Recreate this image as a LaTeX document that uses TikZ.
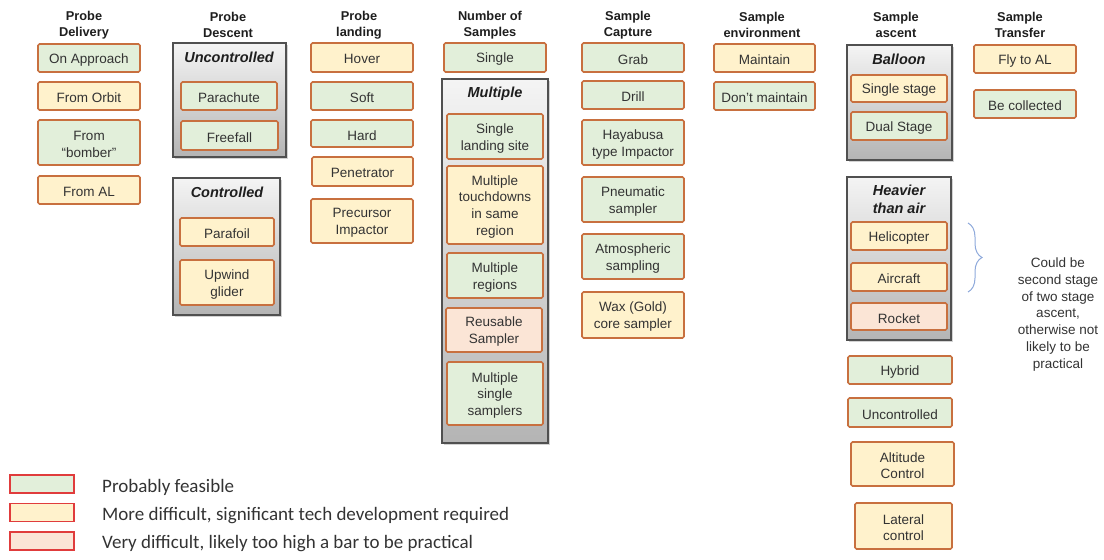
\documentclass[tikz,border=0pt]{standalone}
\usepackage{fontspec}
\setmainfont{Liberation Sans}
\newfontfamily\legendfont{Carlito}
\usetikzlibrary{shadows,decorations.pathreplacing}
\definecolor{gfill}{HTML}{E2EFDA}
\definecolor{yfill}{HTML}{FFF2CC}
\definecolor{pfill}{HTML}{FBE5D6}
\definecolor{boxline}{HTML}{C8703F}
\definecolor{legline}{HTML}{E03C3C}
\definecolor{grpline}{HTML}{505050}
\definecolor{grtop}{HTML}{F4F4F4}
\definecolor{grbot}{HTML}{B4B4B4}
\definecolor{txt}{HTML}{333333}
\definecolor{hdrtxt}{HTML}{1E1E1E}
\definecolor{bracecol}{HTML}{8EA9DB}
\newcommand\bx[7]{\node[#6, minimum width={#4-#2}, minimum height={#5-#3}] (#1) at ({(#2+#4)/2},{(#3+#5)/2}) {};
  \node[boxtxt] (#1-t) at ([yshift=-1.8pt]#1.center) {#7};}
\tikzset{
  box/.style={draw=boxline, line width=1.7pt, rounded corners=1.5pt, inner sep=0pt},
  boxtxt/.style={align=center, inner sep=0pt, text=txt, font=\fontsize{13.5}{16.7}\selectfont},
  gr/.style={box, fill=gfill},
  ye/.style={box, fill=yfill},
  pk/.style={box, fill=pfill},
  grp/.style={draw=grpline, line width=1.6pt, top color=grtop, bottom color=grbot, inner sep=0pt,
    drop shadow={shadow xshift=2pt, shadow yshift=-2pt, opacity=0.35}},
  hdr/.style={font=\bfseries\fontsize{12.8}{15.5}\selectfont, align=center, text=hdrtxt, inner sep=0pt},
  gtitle/.style={font=\bfseries\itshape\fontsize{14.5}{17.5}\selectfont, align=center, text=hdrtxt, inner sep=0pt},
  leg/.style={draw=legline, line width=1.4pt, inner sep=0pt, minimum width=64pt, minimum height=18pt},
  legtxt/.style={anchor=west, font=\legendfont\fontsize{19}{22}\selectfont, text=txt, inner sep=0pt},
  note/.style={align=center, text=txt, font=\fontsize{13.5}{16.8}\selectfont, inner sep=0pt}
}
\begin{document}
\begin{tikzpicture}[x=1pt,y=-1pt]
\useasboundingbox (0,0) rectangle (1104,560);
% headers
\node[hdr] (h1) at (84,25) {Probe\\Delivery};
\node[hdr] (h2) at (228,25) {Probe\\Descent};
\node[hdr] (h3) at (359,25) {Probe\\landing};
\node[hdr] (h4) at (490,25) {Number of\\Samples};
\node[hdr] (h5) at (628,25) {Sample\\Capture};
\node[hdr] (h6) at (762,25) {Sample\\environment};
\node[hdr] (h7) at (896,25) {Sample\\ascent};
\node[hdr] (h8) at (1020,25) {Sample\\Transfer};
% column 1
\bx{d1}{38}{44}{140}{72}{gr}{On Approach}
\bx{d2}{38}{82}{140}{110}{ye}{From Orbit}
\bx{d3}{38}{120}{140}{165}{gr}{From\\“bomber”}
\bx{d4}{38}{176}{140}{204}{ye}{From AL}
% column 2
\bx{gU}{173}{43}{286}{157}{grp}{}
\node[gtitle] (tU) at (229,57) {Uncontrolled};
\bx{p1}{181}{82}{277}{110}{gr}{Parachute}
\bx{p2}{181}{121}{278}{150}{gr}{Freefall}
\bx{gC}{173}{178}{280}{315}{grp}{}
\node[gtitle] (tC) at (227,192) {Controlled};
\bx{p3}{180}{218}{274}{246}{ye}{Parafoil}
\bx{p4}{180}{260}{274}{305}{ye}{Upwind\\glider}
% column 3
\bx{l1}{311}{43}{413}{72}{ye}{Hover}
\bx{l2}{311}{82}{413}{110}{gr}{Soft}
\bx{l3}{311}{120}{413}{147}{gr}{Hard}
\bx{l4}{312}{157}{413}{186}{ye}{Penetrator}
\bx{l5}{311}{199}{413}{243}{ye}{Precursor\\Impactor}
% column 4
\bx{n1}{444}{43}{546}{72}{gr}{Single}
\bx{gM}{442}{79}{548}{443}{grp}{}
\node[gtitle] (tM) at (495,94) {Multiple};
\bx{n2}{447}{114}{543}{159}{gr}{Single\\landing site}
\bx{n3}{447}{166}{543}{244}{ye}{Multiple\\touchdowns\\in same\\region}
\bx{n4}{447}{253}{543}{298}{gr}{Multiple\\regions}
\bx{n5}{446}{308}{542}{352}{pk}{Reusable\\Sampler}
\bx{n6}{447}{362}{543}{425}{gr}{Multiple\\single\\samplers}
% column 5
\bx{c1}{582}{43}{684}{72}{gr}{Grab}
\bx{c2}{582}{81}{684}{109}{gr}{Drill}
\bx{c3}{582}{120}{684}{165}{gr}{Hayabusa\\type Impactor}
\bx{c4}{582}{177}{684}{222}{gr}{Pneumatic\\sampler}
\bx{c5}{582}{234}{684}{279}{gr}{Atmospheric\\sampling}
\bx{c6}{582}{292}{684}{338}{ye}{Wax (Gold)\\core sampler}
% column 6
\bx{e1}{714}{44}{815}{72}{ye}{Maintain}
\bx{e2}{714}{82}{815}{110}{gr}{Don't maintain}
% column 7
\bx{gB}{847}{45}{952}{160}{grp}{}
\node[gtitle] (tB) at (899,59) {Balloon};
\bx{a1}{851}{75}{947}{102}{ye}{Single stage}
\bx{a2}{851}{112}{947}{140}{gr}{Dual Stage}
\bx{gH}{847}{177}{951}{340}{grp}{}
\node[gtitle] (tH) at (899,199.5) {Heavier\\than air};
\bx{a3}{851}{222}{947}{250}{ye}{Helicopter}
\bx{a4}{851}{263}{947}{291}{ye}{Aircraft}
\bx{a5}{851}{303}{947}{330}{pk}{Rocket}
\bx{a6}{848}{356}{952}{384}{gr}{Hybrid}
\bx{a7}{848}{398}{952}{427}{gr}{Uncontrolled}
\bx{a8}{851}{442}{954}{486}{ye}{Altitude\\Control}
\bx{a9}{855}{503}{952}{549}{ye}{Lateral\\control}
% column 8
\bx{t1}{974}{45}{1076}{73}{ye}{Fly to AL}
\bx{t2}{974}{90}{1076}{118}{gr}{Be collected}
% brace and note
\coordinate (bt) at (968,223);
\coordinate (bb) at (968,292);
\draw[bracecol, line width=1pt, decorate, decoration={brace, amplitude=14pt}] (bt) -- (bb);
\node[note] (nt) at (1058,314.5) {Could be\\second stage\\of two stage\\ascent,\\otherwise not\\likely to be\\practical};
% legend
\node[leg, fill=gfill] (k1) at (42,484) {};
\node[leg, fill=yfill] (k2) at (42,512.5) {};
\node[leg, fill=pfill] (k3) at (42,541) {};
\node[legtxt] (k1t) at (102,487.5) {Probably feasible};
\node[legtxt] (k2t) at (102,515.5) {More difficult, significant tech development required};
\node[legtxt] (k3t) at (102,544) {Very difficult, likely too high a bar to be practical};
\end{tikzpicture}
\end{document}
